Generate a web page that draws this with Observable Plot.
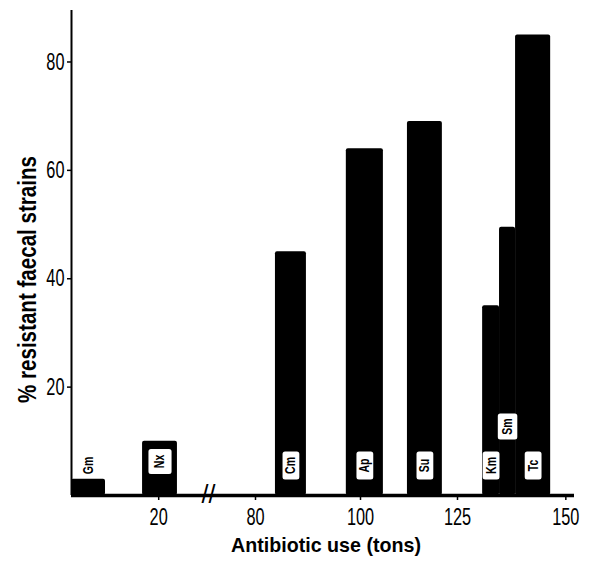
<!DOCTYPE html>
<html>
<head>
<meta charset="utf-8">
<script src="https://cdn.jsdelivr.net/npm/d3@7"></script>
<script src="https://cdn.jsdelivr.net/npm/@observablehq/plot@0.6"></script>
<style>
  html, body { margin: 0; padding: 0; background: #fff; }
  #chart svg { display: block; }
</style>
</head>
<body>
<div id="chart"></div>
<script>
// Antibiotics, resistance (% resistant faecal strains) and usage span (tons)
const antibiotics = ["Gm", "Nx", "Cm", "Ap", "Su", "Km", "Sm", "Tc"];
const resistance  = [3, 10, 45, 64, 69, 35, 49.5, 85];
const useStart    = [0, 16.3, 83.8, 97.3, 112.1, 130.8, 134.7, 138.4];
const useEnd      = [7.8, 24.3, 89.7, 105.9, 121.1, 134.7, 138.4, 146.5];
const xTicks = [20, 80, 100, 125, 150];
const yTicks = [20, 40, 60, 80];
const breakAt = 45.5; // axis break between 20 and 80 tons

// broken (piecewise) axis: tons -> position along the axis
const brk = d3.scaleLinear()
  .domain([0, 25, 80, 100, 125, 152])
  .range([0, 109, 184, 289, 386, 503]);

const data = antibiotics.map((name, i) => ({
  name, value: resistance[i],
  x1: brk(useStart[i]), x2: brk(useEnd[i]),
  mid: (brk(useStart[i]) + brk(useEnd[i])) / 2
}));

const FONT = "'Liberation Sans', Arial, sans-serif";

// rounded white label box as a custom symbol
function boxSymbol(wk, hk) {
  return {
    draw(ctx, size) {
      const r = Math.sqrt(size / Math.PI);
      const w = r * wk, h = r * hk, c = 2.5;
      const x0 = -w / 2, y0 = -h / 2, x1 = w / 2, y1 = h / 2;
      ctx.moveTo(x0 + c, y0);
      ctx.lineTo(x1 - c, y0); ctx.arcTo(x1, y0, x1, y0 + c, c);
      ctx.lineTo(x1, y1 - c); ctx.arcTo(x1, y1, x1 - c, y1, c);
      ctx.lineTo(x0 + c, y1); ctx.arcTo(x0, y1, x0, y1 - c, c);
      ctx.lineTo(x0, y0 + c); ctx.arcTo(x0, y0, x0 + c, y0, c);
      ctx.closePath();
    }
  };
}

const lift = d => d.name === "Sm" ? 69 : d.name === "Nx" ? 34 : 30;

const chart = Plot.plot({
  width: 597,
  height: 580,
  marginLeft: 71,
  marginRight: 23,
  marginTop: 10,
  marginBottom: 85,
  style: { background: "#fff", color: "#000" },
  x: { domain: [0, brk(152)] },
  y: { domain: [0, 89.5] },
  marks: [
    Plot.rect(data, { x1: "x1", x2: "x2", y1: 0, y2: "value", fill: "#000", rx: 2 }),
    // label boxes
    Plot.dot(data.filter(d => !["Gm", "Nx", "Sm"].includes(d.name)), {
      x: "mid", y: 0, dy: -30, r: 14, symbol: boxSymbol(1.2, 2.0), fill: "#fff", stroke: "none"
    }),
    Plot.dot(data.filter(d => d.name === "Sm"), {
      x: "mid", y: 0, dy: -69, r: 13, symbol: boxSymbol(1.5, 2.0), fill: "#fff", stroke: "none"
    }),
    Plot.dot(data.filter(d => d.name === "Nx"), {
      x: "mid", y: 0, dy: -34, r: 14, symbol: boxSymbol(1.65, 1.8), fill: "#fff", stroke: "none"
    }),
    // labels (rotated)
    ...data.map(d => Plot.text([d], {
      x: "mid", y: 0, dy: -lift(d), text: "name", rotate: -90,
      fontSize: 14, fontWeight: "bold", fontFamily: FONT, fill: "#000", className: "lbl"
    })),
    // axis lines
    Plot.ruleY([0], { stroke: "#000", strokeWidth: 3.5 }),
    Plot.ruleX([0], { stroke: "#000", strokeWidth: 2 }),
    // axis break marks
    Plot.text([brk(breakAt)], { x: d => d, y: 0, dy: -1, text: () => "//", fontSize: 25,
      fontFamily: FONT, fill: "#000" }),
    Plot.axisX({ ticks: xTicks.map(brk), tickSize: 5, tickPadding: 7,
      tickFormat: v => String(Math.round(brk.invert(v))),
      fontSize: 24, fontFamily: FONT, label: null, strokeWidth: 1.5, className: "tk" }),
    Plot.axisY({ ticks: yTicks, tickSize: 4, tickPadding: 3, tickFormat: d => String(d),
      fontSize: 24, fontFamily: FONT, label: null, strokeWidth: 1.5, className: "tk" }),
    // axis titles
    Plot.text(["Antibiotic use (tons)"], { frameAnchor: "bottom", dx: -92, dy: 56, text: d => d,
      textAnchor: "start", fontSize: 21, fontWeight: "bold", fontFamily: FONT, fill: "#000", className: "xt" }),
    Plot.text(["% resistant faecal strains"], { frameAnchor: "left", dx: -44, dy: 150, rotate: -90,
      textAnchor: "start", text: d => d, fontSize: 26, fontWeight: "bold", fontFamily: FONT, fill: "#000", className: "yt" })
  ]
});
document.getElementById("chart").appendChild(chart);

// condense text to mimic the narrow lettering of the original
function condense(sel, k, target) {
  chart.querySelectorAll(sel + " text").forEach(t => {
    const len = t.getComputedTextLength();
    t.setAttribute("textLength", target ?? len * k);
    t.setAttribute("lengthAdjust", "spacingAndGlyphs");
  });
}
condense(".tk", 0.68);
condense(".xt", 1, 190);
condense(".yt", 1, 247);
condense(".lbl", 0.75);
</script>
</body>
</html>
